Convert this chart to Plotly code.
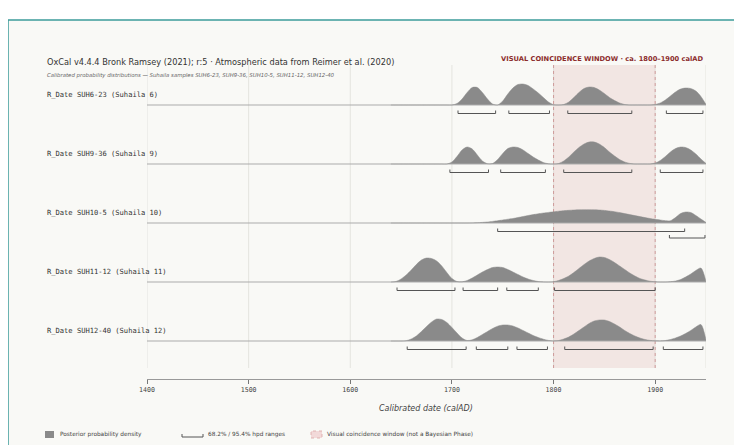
import plotly.graph_objects as go

# ---------------- data ----------------
YEARS = list(range(1640, 1955, 5))  # 1640 ... 1950

SAMPLE_LABELS = [
    "R_Date SUH6-23 (Suhaila 6)",
    "R_Date SUH9-36 (Suhaila 9)",
    "R_Date SUH10-5 (Suhaila 10)",
    "R_Date SUH11-12 (Suhaila 11)",
    "R_Date SUH12-40 (Suhaila 12)",
]

# relative posterior density (arbitrary units) at each year of YEARS
DENS_SUH6_23 = [
    0, 0, 0, 0, 0, 0, 0, 0, 0, 0, 0, 0,                 # 1640-1695
    0, 1.5, 6, 12.5, 17.5, 17.5, 12.5, 6, 1, 0,          # 1700-1745
    4, 11, 17, 20.5, 21, 19.5, 16, 12, 7.5, 3, 0.3,      # 1750-1800
    0, 0.5, 3, 7.5, 12.5, 16.5, 18, 17.5, 15, 11.5,      # 1805-1850
    7.5, 4.5, 2, 0.5, 0, 0, 0, 0, 0,                     # 1855-1895
    0.5, 2, 5, 9, 13, 16, 17, 16.5, 14, 8.5, 0.5,        # 1900-1950
]
DENS_SUH9_36 = [
    0, 0, 0, 0, 0, 0, 0, 0, 0, 0, 0, 0,                 # 1640-1695
    2, 7.5, 14, 17, 15, 9, 3, 0.3,                       # 1700-1735
    0.5, 4.5, 10.5, 15.5, 17, 16.5, 14, 10.5, 7, 4, 1.5, 0.2,  # 1740-1795
    0, 0.5, 3, 7, 12, 16.5, 20, 22, 22, 20, 16.5,        # 1800-1850
    12, 8, 4.5, 2, 0.6, 0, 0, 0, 0,                      # 1855-1895
    1, 3.5, 7.5, 12, 15.5, 17, 16.5, 14, 10, 5, 0.5,     # 1900-1950
]
DENS_SUH10_5 = [
    0, 0, 0, 0, 0, 0, 0, 0, 0, 0, 0, 0, 0, 0, 0, 0,     # 1640-1715
    0.1, 0.3, 0.6, 1, 1.6, 2.3, 3, 3.8,                  # 1720-1755
    4.5, 5.5, 6.5, 7.5, 8.4, 9.2, 10, 10.6,              # 1760-1795
    11.2, 11.8, 12.3, 12.7, 13, 13.2, 13.3, 13.3,        # 1800-1835
    13.2, 13, 12.6, 12, 11.3, 10.4, 9.4, 8.4,            # 1840-1875
    7.4, 6.4, 5.4, 4.5, 3.7, 3, 2.3, 2.3,                # 1880-1915
    5.5, 9.5, 11, 10.5, 7.5, 4, 0.5,                     # 1920-1950
]
DENS_SUH11_12 = [
    0, 0.5, 3, 7, 12, 17.5, 22, 24, 23.5, 21, 16, 9.5,   # 1640-1695
    3.5, 0.5, 0.2, 1.5, 4, 7, 10, 12.5,                  # 1700-1735
    14.5, 15, 14.5, 12.5, 10, 7.5, 5, 3, 1.5, 0.5, 0.1, 0,  # 1740-1795
    0.3, 1.5, 3.5, 6, 9.5, 13.5, 17.5, 21, 23.5, 25,     # 1800-1845
    24.5, 22.5, 19.5, 16, 12.5, 9, 6, 3.5, 2, 0.8,       # 1850-1895
    0.2, 0, 0, 0.3, 1, 2.5, 5, 8, 11.5, 14, 0.5,         # 1900-1950
]
DENS_SUH12_40 = [
    0, 0, 0, 0.3, 2, 5, 9.5, 14.5, 19, 22, 21.5, 18.5,   # 1640-1695
    13.5, 8, 3, 0.5, 1.2, 3.5, 6.5, 9.5,                 # 1700-1735
    12.5, 14.8, 16, 16, 15, 13, 10.5, 8, 5.5, 3.5, 1.8, 0.6,  # 1740-1795
    0.1, 0.5, 2, 4, 7, 10.5, 14, 17.5, 20, 21,           # 1800-1845
    21, 19.5, 17, 14, 10.5, 7.5, 5, 3, 1.5, 0.6,         # 1850-1895
    0.2, 0.1, 0.5, 1.5, 3, 5, 7.5, 10.5, 14, 16.5, 1,    # 1900-1950
]
DENSITIES = [DENS_SUH6_23, DENS_SUH9_36, DENS_SUH10_5, DENS_SUH11_12, DENS_SUH12_40]

# hpd ranges (calAD): (start, end, level)  level 0 = first row of brackets, 1 = second
HPD_SUH6_23 = [(1706, 1743, 0), (1756, 1796, 0), (1814, 1877, 0), (1911, 1947, 0)]
HPD_SUH9_36 = [(1698, 1736, 0), (1748, 1792, 0), (1810, 1877, 0), (1905, 1947, 0)]
HPD_SUH10_5 = [(1745, 1929, 0), (1914, 1949, 1)]
HPD_SUH11_12 = [(1646, 1703, 0), (1711, 1745, 0), (1754, 1785, 0), (1801, 1900, 0)]
HPD_SUH12_40 = [(1656, 1714, 0), (1724, 1755, 0), (1764, 1794, 0), (1811, 1898, 0), (1908, 1947, 0)]
HPD = [HPD_SUH6_23, HPD_SUH9_36, HPD_SUH10_5, HPD_SUH11_12, HPD_SUH12_40]

X_TICKS = [1400, 1500, 1600, 1700, 1800, 1900]
GRID_X = [1400, 1500, 1600, 1700, 1800, 1900, 1950]
X_RANGE = [1400, 1950]
WINDOW = (1800, 1900)

TITLE = "OxCal v4.4.4 Bronk Ramsey (2021); r:5 · Atmospheric data from Reimer et al. (2020)"
SUBTITLE = ("Calibrated probability distributions — Suhaila samples "
            "SUH6-23, SUH9-36, SUH10-5, SUH11-12, SUH12-40")
WINDOW_LABEL = "VISUAL COINCIDENCE WINDOW · ca. 1800–1900 calAD"
X_TITLE = "Calibrated date (calAD)"
LEGEND_TEXTS = ["Posterior probability density", "68.2% / 95.4% hpd ranges",
                "Visual coincidence window (not a Bayesian Phase)"]

# ---------------- layout geometry (screen pixels) ----------------
W, H = 742, 445
OFF = 8                                 # page body margin
PL, PR, PT, PB = 147, 706, 65, 379      # plot area on screen
ROW_PX = 59                             # px between row baselines
FIRST_BASE_PX = 105
PX = 1.0 / ROW_PX                       # one pixel in row units
DENS_PX = 1.0                           # density unit -> pixels
GRID_BOTTOM_PX = 368

y_top = -(FIRST_BASE_PX - PT) * PX
y_bot = (PB - FIRST_BASE_PX) * PX
y_grid_bot = (GRID_BOTTOM_PX - FIRST_BASE_PX) * PX


def xp(px):
    return (px - PL) / (PR - PL)


def yp(py):
    return (PB - py) / (PB - PT)


FILL = "#8a8a8a"
BASE = "#ababab"
BRACKET = "#555555"
MONO = "DejaVu Sans Mono"
SANS = "DejaVu Sans"

fig = go.Figure()

for i, dens in enumerate(DENSITIES):
    # baseline
    fig.add_trace(go.Scatter(x=X_RANGE, y=[i, i], mode="lines",
                             line=dict(color=BASE, width=1), hoverinfo="skip",
                             showlegend=False))
    fig.add_trace(go.Scatter(
        x=YEARS, y=[i - d * DENS_PX * PX for d in dens], mode="lines",
        line=dict(color=FILL, width=0.5, shape="spline", smoothing=0.8),
        fill="tonexty", fillcolor=FILL, hoverinfo="skip", showlegend=False))
    # hpd brackets
    bx, by = [], []
    for (s, e, lev) in HPD[i]:
        yb = i + (8.5 + 6.5 * lev) * PX
        up = 3 * PX
        bx += [s, s, e, e, None]
        by += [yb - up, yb, yb, yb - up, None]
    fig.add_trace(go.Scatter(x=bx, y=by, mode="lines",
                             line=dict(color=BRACKET, width=1), hoverinfo="skip",
                             showlegend=False))

shapes = []
# white band above the frame and left of it
shapes.append(dict(type="rect", xref="paper", yref="paper",
                   x0=xp(-100), x1=xp(1400), y0=yp(20), y1=yp(-100),
                   line=dict(width=0), fillcolor="white", layer="below"))
shapes.append(dict(type="rect", xref="paper", yref="paper",
                   x0=xp(-100), x1=xp(8), y0=yp(1200), y1=yp(-100),
                   line=dict(width=0), fillcolor="white", layer="below"))
# frame: only its top and left edges fall inside the window
shapes.append(dict(type="path", xref="paper", yref="paper",
                   path=f"M {xp(8)} {yp(1200)} L {xp(8)} {yp(20)} L {xp(1400)} {yp(20)}",
                   line=dict(color="#3d9c9a", width=1.5), layer="below"))
# grid
for gx in GRID_X:
    shapes.append(dict(type="line", xref="x", yref="y", x0=gx, x1=gx,
                       y0=y_top, y1=y_grid_bot,
                       line=dict(color="#e4e4df", width=1), layer="below"))
# window
shapes.append(dict(type="rect", xref="x", yref="y", x0=WINDOW[0], x1=WINDOW[1],
                   y0=y_top, y1=y_grid_bot, line=dict(width=0),
                   fillcolor="rgba(200,120,120,0.15)", layer="below"))
for wx in WINDOW:
    shapes.append(dict(type="line", xref="x", yref="y", x0=wx, x1=wx,
                       y0=y_top, y1=y_grid_bot,
                       line=dict(color="#c98a8a", width=0.8, dash="dot"),
                       layer="below"))
# legend symbols
shapes.append(dict(type="rect", xref="paper", yref="paper",
                   x0=xp(45), x1=xp(54), y0=yp(438), y1=yp(431),
                   line=dict(width=0), fillcolor=FILL))
shapes.append(dict(type="path", xref="paper", yref="paper",
                   path=(f"M {xp(182)} {yp(434)} L {xp(182)} {yp(437)} "
                         f"L {xp(203)} {yp(437)} L {xp(203)} {yp(434)}"),
                   line=dict(color=BRACKET, width=1)))
shapes.append(dict(type="rect", xref="paper", yref="paper",
                   x0=xp(311), x1=xp(322), y0=yp(438), y1=yp(431),
                   line=dict(color="#dba5a5", width=0.8, dash="dot"),
                   fillcolor="#f2d9d9"))

ann = []
ann.append(dict(text=TITLE, xref="paper", yref="paper", x=xp(45), y=yp(62),
                xanchor="left", yanchor="middle", showarrow=False,
                font=dict(family=SANS, size=8.2, color="#333333")))
ann.append(dict(text=f"<i>{SUBTITLE}</i>", xref="paper", yref="paper", x=xp(45),
                y=yp(75), xanchor="left", yanchor="middle", showarrow=False,
                font=dict(family=SANS, size=5.4, color="#666666")))
ann.append(dict(text=f"<b>{WINDOW_LABEL}</b>", xref="paper", yref="paper",
                x=xp(706), y=yp(59), xanchor="right", yanchor="middle",
                showarrow=False, font=dict(family=SANS, size=6.7, color="#8b2b2b")))
for i, lab in enumerate(SAMPLE_LABELS):
    ann.append(dict(text=lab, xref="paper", yref="y", x=xp(45), y=i - 10.5 * PX,
                    xanchor="left", yanchor="middle", showarrow=False,
                    font=dict(family=MONO, size=7.1, color="#333333")))
ann.append(dict(text=f"<i>{X_TITLE}</i>", xref="paper", yref="paper",
                x=xp(426), y=yp(408), xanchor="center", yanchor="middle",
                showarrow=False, font=dict(family=SANS, size=8, color="#444444")))
for txt, px0 in zip(LEGEND_TEXTS, [58, 206, 325]):
    ann.append(dict(text=txt, xref="paper", yref="paper", x=xp(px0), y=yp(434),
                    xanchor="left", yanchor="middle", showarrow=False,
                    font=dict(family=SANS, size=5.8, color="#444444")))

fig.update_layout(
    width=W, height=H, autosize=False,
    margin=dict(l=PL - OFF, r=W - (PR - OFF), t=PT - OFF, b=H - (PB - OFF), pad=0),
    paper_bgcolor="#f9f9f6", plot_bgcolor="rgba(0,0,0,0)",
    showlegend=False, shapes=shapes, annotations=ann,
    xaxis=dict(range=X_RANGE, tickvals=X_TICKS, ticks="outside", ticklen=4,
               tickcolor="#777777", showline=True, linecolor="#999999",
               linewidth=1, showgrid=False, zeroline=False,
               tickfont=dict(family=MONO, size=6.6, color="#444444")),
    yaxis=dict(range=[y_bot, y_top], showgrid=False, zeroline=False,
               showticklabels=False, showline=False, ticks=""),
)

fig.write_html("out.html")
